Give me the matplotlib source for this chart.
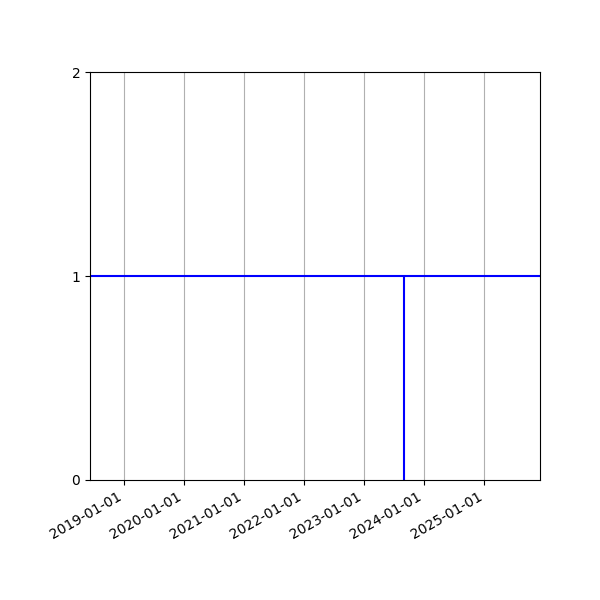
import matplotlib
matplotlib.use("Agg")
import matplotlib.pyplot as plt
import matplotlib.dates as mdates
import numpy as np

# Data
event_dates = np.array(["2023-09-01"], dtype="datetime64[D]")
event_values = [1]
baseline_level = 1
x_range = np.array(["2018-06-08", "2025-12-06"], dtype="datetime64[D]")
y_ticks = [0, 1, 2]

fig, ax = plt.subplots(figsize=(6, 6), dpi=100)
fig.subplots_adjust(left=0.15, right=0.9, top=0.88, bottom=0.2)

ax.axhline(baseline_level, color="blue", lw=1.5)
ax.vlines(event_dates, 0, event_values, color="blue", lw=1.5)

ax.set_xlim(x_range[0], x_range[1])
ax.set_ylim(0, 2)
ax.set_yticks(y_ticks)
ax.xaxis.set_major_locator(mdates.YearLocator())
ax.xaxis.set_major_formatter(mdates.DateFormatter("%Y-%m-%d"))
ax.grid(True, axis="x")
for lbl in ax.get_xticklabels():
    lbl.set_rotation(30)
    lbl.set_ha("right")

fig.savefig("out.png", dpi=100)
